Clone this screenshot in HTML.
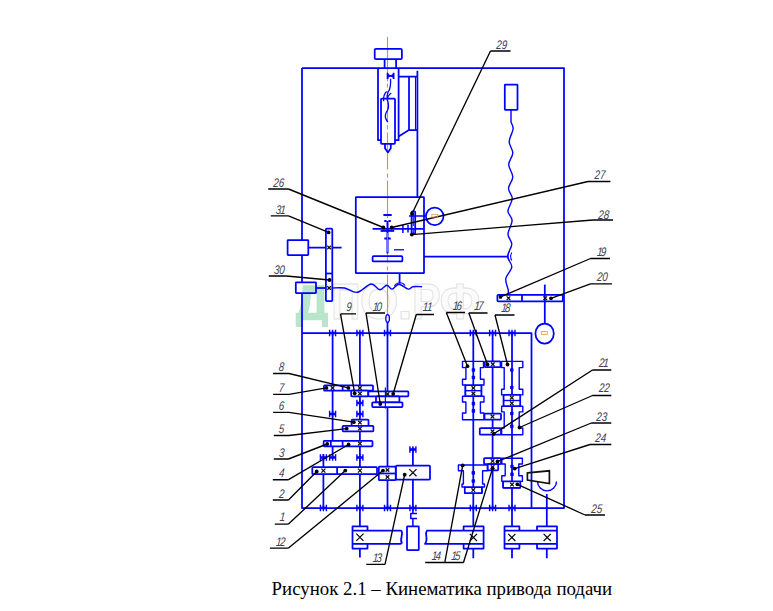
<!DOCTYPE html>
<html><head><meta charset="utf-8"><style>
html,body{margin:0;padding:0;background:#fff;width:773px;height:611px;overflow:hidden}
svg{position:absolute;left:0;top:0}
.cap{position:absolute;left:271.6px;top:579.5px;font-family:"Liberation Serif",serif;font-size:18.85px;color:#000;white-space:nowrap;line-height:1}
</style></head><body>
<svg width="773" height="611" viewBox="0 0 773 611">
<path fill-rule="evenodd" fill="#b9e5cb" d="M302.7,285.3 H324.4 V312.8 H328 V327.1 H321.9 V320.2 H302.7 V327.1 H295.7 V312.8 H298.5 Q302,304 302.7,285.3 Z M310.9,293.5 H316.6 V312.8 H308 Q310.5,305 310.9,293.5 Z"/>
<g font-family="Liberation Sans, sans-serif" font-weight="bold" font-size="50" fill="#fbfbfb" stroke="#e2e2e2" stroke-width="1">
<text x="0" y="0" transform="translate(331.3,319.3) scale(0.81,1)">П</text>
<text x="0" y="0" transform="translate(359.8,319.3) scale(1.0,1)">О</text>
<text x="0" y="0" transform="translate(397.2,319.3) scale(1.13,1)">.</text>
<text x="0" y="0" transform="translate(412.1,319.3) scale(0.86,1)">Р</text>
<text x="0" y="0" transform="translate(439.6,319.3) scale(0.96,1)">Ф</text>
</g>
<path d="M387.5,37 V81.5 M387.5,83.5 V87.5 M387.5,91 V122 M387.5,125.3 V129.5 M387.5,132.5 V169.5 M387.5,173.4 V177.8 M387.5,180.8 V218 M387.5,221.5 V225.5 M387.5,229 V262.5 M387.5,266.5 V270.5 M387.5,274.5 V315" stroke="#f08a1c" stroke-width="1.1" fill="none"/>
<g fill="none" stroke="#0000ff" stroke-width="1.75" stroke-linejoin="round" stroke-linecap="butt">
<path d="M302,68 H564 V508 H302 V293 M302,282.3 V255 M302,240 V68"/>
<path d="M302,333 H531.5 V508"/>
<rect x="374.7" y="48.8" width="27.2" height="10.4" rx="1.2" fill="none"/>
<path d="M384.6,59.2 V68 M396.1,59.2 V68"/>
<path d="M378,68 V140.2 H381 M395,140.2 H398.6 V68"/>
<rect x="381" y="98.6" width="14" height="45.2" rx="0.8" fill="none"/>
<path d="M385,143.8 V148.3 L387.9,152.4 L390.8,148.3 V143.8"/>
<path d="M398.6,76.5 H417.2 M409,76.5 V130.2 M398.6,136.4 L408.5,130.2 H417.2 M417.4,70.8 V197.6"/>
<path d="M415.5,76.5 V130.2" stroke-width="1.1"/>
<path d="M387.6,72.8 V78.9 M393.6,72.8 V78.9 M387.6,75.8 H393.6" stroke-width="1.8"/>
<path d="M387.6,74 L390.6,75.8 L387.6,77.6 Z M393.6,74 L390.6,75.8 L393.6,77.6 Z" stroke-width="0.8" fill="#0000ff"/>
<path d="M390.6,78.8 C390.8,84 390.8,88 388.5,91.5 C386.5,94.5 386.8,98 388,102 C389,106 388.8,109 386.5,112 C384.5,115 385.5,119 387.8,122" stroke-width="1.3"/>
<path d="M386.6,91.5 C384.5,93.5 383.2,97 383.6,101.3 M391.2,93 C388.6,94.8 387.2,97.5 387.3,100.8" stroke-width="1.3"/>
<rect x="355.8" y="197.2" width="68.2" height="76.0" rx="0.5" fill="none"/>
<path d="M372.6,228.8 H423.7"/>
<path d="M383.4,215 H391.7" stroke-width="2"/>
<path d="M384.3,220.9 H386.6 M388.4,220.9 H390.8" stroke-width="2"/>
<path d="M380.6,230.9 H394.2" stroke-width="1.9"/>
<path d="M387.5,221 V253.4" stroke-width="2.0"/>
<path d="M384.3,238.5 H390.8" stroke-width="2"/>
<path d="M394,249.8 H404" stroke-width="1.3"/>
<rect x="372.6" y="256.2" width="29.8" height="5.2" rx="1" fill="none"/>
<rect x="411.6" y="211.3" width="3.6" height="22.2" rx="0.8" fill="none"/>
<path d="M409,216 H426 M402.9,225 V233 M408,225 V232.5" stroke-width="1.5"/>
<path d="M413.3,213 V226 M413.3,228 V233" stroke-width="1.0"/>
<circle cx="434.7" cy="216.3" r="8.8"/>
<path d="M424,256.5 H507.2"/>
<path d="M399.6,273.2 V283.6"/>
<rect x="287.6" y="240" width="20.7" height="15" rx="0.5" fill="none"/>
<path d="M308.3,247.5 H341.6"/>
<rect x="325.9" y="228.5" width="6.4" height="72.5" rx="1" fill="#fff"/>
<path d="M325.9,273.5 H332.3"/>
<rect x="295.8" y="282.3" width="20.2" height="10.7" rx="0.5" fill="none"/>
<path d="M316,288 H325.9"/>
<path d="M332.3,288 C334.33,288.00 340.32,287.28 344.5,288 C348.68,288.72 352.98,292.97 357.4,292.3 C361.82,291.63 367.27,284.43 371,284 C374.73,283.57 377.17,289.50 379.8,289.7 C382.43,289.90 384.77,285.30 386.8,285.2 C388.83,285.10 389.98,289.27 392,289.1 C394.02,288.93 396.20,284.20 398.9,284.2 C401.60,284.20 405.85,288.68 408.2,289.1 C410.55,289.52 410.70,287.10 413,286.7 C415.30,286.30 420.50,286.70 422,286.7 " stroke-width="1.4"/>
<path d="M394.5,286 C397,281.5 403,282 405,285.5" stroke-width="1.2"/>
<rect x="504.8" y="84.5" width="12.7" height="25.3" rx="0.5" fill="#fff"/>
<path d="M511,109.8 V122 C511.35,123.17 513.40,125.72 513.1,129 C512.80,132.28 509.25,137.70 509.2,141.7 C509.15,145.70 512.88,149.18 512.8,153 C512.72,156.82 508.70,160.62 508.7,164.6 C508.70,168.58 512.83,172.95 512.8,176.9 C512.77,180.85 508.58,184.68 508.5,188.3 C508.42,191.92 512.40,194.78 512.3,198.6 C512.20,202.42 507.93,207.57 507.9,211.2 C507.87,214.83 512.08,216.58 512.1,220.4 C512.12,224.22 508.05,230.13 508,234.1 C507.95,238.07 511.87,240.52 511.8,244.2 C511.73,247.88 507.60,252.40 507.6,256.2 C507.60,260.00 512.10,263.28 511.8,267 C511.50,270.72 506.38,274.67 505.8,278.5 C505.22,282.33 507.88,288.08 508.3,290  V294.6" stroke-width="1.4"/>
<path d="M509.5,251.5 C507.5,254 507.5,258.5 509.5,261 M511.8,252.5 C510.3,255 510.3,258 511.8,260.5" stroke-width="1.1"/>
<rect x="497.4" y="294.8" width="65.4" height="6.5" rx="0.8" fill="#fff"/>
<path d="M522,294.8 V301.3"/>
<path d="M544.8,284.6 V323.3"/>
<ellipse cx="544.6" cy="333.5" rx="9.2" ry="10"/>
<path d="M332.6,333 V457.5 M359.9,333 V526.3 M359.9,548.7 V557.5 M387.5,322 V508 M323.4,454 V508 M412.9,447.6 V465.7 M412.9,479.6 V508"/>
<ellipse cx="387.6" cy="318.5" rx="1.8" ry="3.8" stroke-width="1.3"/>
<path d="M329.6,329.8 V336.2 M335.6,329.8 V336.2 M332.6,329.8 V336.2" stroke-width="1.4"/>
<path d="M329.6,333 H335.6" stroke-width="2.6"/>
<path d="M356.9,329.8 V336.2 M362.9,329.8 V336.2 M359.9,329.8 V336.2" stroke-width="1.4"/>
<path d="M356.9,333 H362.9" stroke-width="2.6"/>
<path d="M384.5,329.8 V336.2 M390.5,329.8 V336.2 M387.5,329.8 V336.2" stroke-width="1.4"/>
<path d="M384.5,333 H390.5" stroke-width="2.6"/>
<path d="M356.9,399.8 V406.2 M362.9,399.8 V406.2 M359.9,399.8 V406.2" stroke-width="1.4"/>
<path d="M356.9,403 H362.9" stroke-width="2.6"/>
<path d="M329.6,410.8 V417.2 M335.6,410.8 V417.2 M332.6,410.8 V417.2" stroke-width="1.4"/>
<path d="M329.6,414 H335.6" stroke-width="2.6"/>
<path d="M356.9,410.8 V417.2 M362.9,410.8 V417.2 M359.9,410.8 V417.2" stroke-width="1.4"/>
<path d="M356.9,414 H362.9" stroke-width="2.6"/>
<path d="M320.4,454.3 V460.7 M326.4,454.3 V460.7 M323.4,454.3 V460.7" stroke-width="1.4"/>
<path d="M320.4,457.5 H326.4" stroke-width="2.6"/>
<path d="M329.6,454.3 V460.7 M335.6,454.3 V460.7 M332.6,454.3 V460.7" stroke-width="1.4"/>
<path d="M329.6,457.5 H335.6" stroke-width="2.6"/>
<path d="M356.9,454.3 V460.7 M362.9,454.3 V460.7 M359.9,454.3 V460.7" stroke-width="1.4"/>
<path d="M356.9,457.5 H362.9" stroke-width="2.6"/>
<path d="M409.9,446.3 V452.7 M415.9,446.3 V452.7 M412.9,446.3 V452.7" stroke-width="1.4"/>
<path d="M409.9,449.5 H415.9" stroke-width="2.6"/>
<path d="M320.4,504.8 V511.2 M326.4,504.8 V511.2 M323.4,504.8 V511.2" stroke-width="1.4"/>
<path d="M320.4,508 H326.4" stroke-width="2.6"/>
<path d="M356.9,504.8 V511.2 M362.9,504.8 V511.2 M359.9,504.8 V511.2" stroke-width="1.4"/>
<path d="M356.9,508 H362.9" stroke-width="2.6"/>
<path d="M384.5,504.8 V511.2 M390.5,504.8 V511.2 M387.5,504.8 V511.2" stroke-width="1.4"/>
<path d="M384.5,508 H390.5" stroke-width="2.6"/>
<path d="M409.9,504.8 V511.2 M415.9,504.8 V511.2 M412.9,504.8 V511.2" stroke-width="1.4"/>
<path d="M409.9,508 H415.9" stroke-width="2.6"/>
<rect x="324" y="385.3" width="49" height="5.4" rx="0.8" fill="#fff"/>
<path d="M342.6,385.3 V390.7"/>
<rect x="351.2" y="390.7" width="17.1" height="5.7" rx="0.8" fill="#fff"/>
<rect x="368.3" y="391.4" width="40.1" height="5.0" rx="0.8" fill="#fff"/>
<rect x="376" y="396.4" width="23.4" height="5.9" rx="0.8" fill="#fff"/>
<rect x="372.2" y="402.3" width="30.3" height="4.7" rx="0.8" fill="#fff"/>
<path d="M385.4,387.5 V408.5" stroke-width="1.2"/>
<rect x="351.6" y="419.5" width="16.9" height="6.3" rx="0.8" fill="#fff"/>
<rect x="342.6" y="425.8" width="30.8" height="5.5" rx="0.8" fill="#fff"/>
<rect x="323.6" y="440.9" width="48.9" height="5.4" rx="0.8" fill="#fff"/>
<path d="M330.8,440.9 V446.3 M342.6,440.9 V446.3"/>
<rect x="312.3" y="467.1" width="64.7" height="7.1" rx="0.8" fill="#fff"/>
<path d="M337.1,467.1 V474.2"/>
<rect x="378.8" y="466.6" width="16.9" height="13.6" rx="0.8" fill="#fff"/>
<path d="M378.8,473.5 H395.7"/>
<rect x="396" y="465.7" width="34" height="13.9" rx="0.8" fill="#fff"/>
<path d="M412.9,508 V513.4 M417,513.4 H410.8 V518.6 H417 M412.9,518.6 V526.3" stroke-width="1.5"/>
<rect x="352.5" y="526.3" width="15.0" height="22.3" fill="#fff" stroke="none"/>
<path d="M367.5,530.5 V526.3 H352.5 V548.6 H367.5 V543.8"/>
<path d="M352.5,530.5 H401.3 M352.5,543.8 H401.3 M401.3,530.5 C404,534 399,539 402,543.8"/>
<rect x="407" y="526.3" width="11.8" height="23.7" rx="0.5" fill="#fff"/>
<rect x="463.6" y="526.3" width="20.0" height="22.3" fill="#fff" stroke="none"/>
<path d="M463.6,530.5 V526.3 H483.6 V548.6 H463.6 V543.8"/>
<path d="M483.6,530.5 H427 C424,534 429,539 425,543.8 H483.6"/>
<rect x="504.5" y="526.3" width="14.9" height="22.3" fill="#fff" stroke="none"/>
<path d="M519.4,530.5 V526.3 H504.5 V548.6 H519.4 V543.8"/>
<rect x="537" y="526.3" width="20" height="22.3" fill="#fff" stroke="none"/>
<path d="M537,530.5 V526.3 H557 V548.6 H537 V543.8"/>
<path d="M504.5,530.5 H557 M504.5,543.8 H557"/>
<path d="M473.3,333 V526.3 M473.3,548.6 V558.3 M492.6,333 V508 M512,333 V526.3 M512,548.6 V558.3 M546.8,494 V526.3 M546.8,548.6 V558.3"/>
<path d="M470.3,329.8 V336.2 M476.3,329.8 V336.2 M473.3,329.8 V336.2" stroke-width="1.4"/>
<path d="M470.3,333 H476.3" stroke-width="2.6"/>
<path d="M470.3,504.8 V511.2 M476.3,504.8 V511.2 M473.3,504.8 V511.2" stroke-width="1.4"/>
<path d="M470.3,508 H476.3" stroke-width="2.6"/>
<path d="M489.6,329.8 V336.2 M495.6,329.8 V336.2 M492.6,329.8 V336.2" stroke-width="1.4"/>
<path d="M489.6,333 H495.6" stroke-width="2.6"/>
<path d="M489.6,504.8 V511.2 M495.6,504.8 V511.2 M492.6,504.8 V511.2" stroke-width="1.4"/>
<path d="M489.6,508 H495.6" stroke-width="2.6"/>
<path d="M509,329.8 V336.2 M515,329.8 V336.2 M512,329.8 V336.2" stroke-width="1.4"/>
<path d="M509,333 H515" stroke-width="2.6"/>
<path d="M509,504.8 V511.2 M515,504.8 V511.2 M512,504.8 V511.2" stroke-width="1.4"/>
<path d="M509,508 H515" stroke-width="2.6"/>
<path d="M462.5,361.4 H483.5 V367.6 H480.4 V379.3 H484 V385 H481.4 V396.2 H484 V402 H480.4 V413 H484 V419.7 H462.5 V413 H465.9 V402 H462.5 V396.2 H465.4 V385 H462.5 V379.3 H465.9 V367.6 H462.5 Z" stroke-width="1.4"/>
<rect x="465.4" y="385" width="16.0" height="11.2" rx="0.5" fill="#fff"/>
<path d="M465.4,390.7 H481.4" stroke-width="1.4"/>
<rect x="484.8" y="361.4" width="15.7" height="5.8" rx="0.8" fill="#fff"/>
<rect x="484.5" y="413.5" width="16.5" height="6.2" rx="0.8" fill="#fff"/>
<path d="M501.6,361.4 H522.8 V367.6 H519.2 V389.2 H522.8 V394.9 H520.2 V406.2 H522.8 V411.9 H519.2 V428 H522.8 V434.7 H501.6 V428 H504.2 V411.9 H501.6 V406.2 H503.6 V394.9 H501.6 V389.2 H504.2 V367.6 H501.6 Z" stroke-width="1.4"/>
<rect x="503.6" y="394.9" width="16.6" height="11.3" rx="0.5" fill="#fff"/>
<path d="M503.6,400.5 H520.2" stroke-width="1.4"/>
<rect x="479.8" y="428" width="21.2" height="6.7" rx="0.8" fill="#fff"/>
<rect x="484" y="458.2" width="17" height="5.8" rx="0.8" fill="#fff"/>
<rect x="487.6" y="464" width="10.6" height="6.3" rx="0.8" fill="#fff"/>
<path d="M458.4,465 H487.6 V470.8 H482.6 V484 H484.5 V487 H481.9 V493.2 H464.8 V487 H462 V484 H463.4 V470.8 H458.4 Z" stroke-width="1.4"/>
<rect x="464.8" y="487" width="17.1" height="6.2" rx="0.5" fill="#fff"/>
<path d="M501.8,458.2 H522.4 V464 H518.8 V475.7 H522.4 V481.4 H520.3 V487.8 H503.1 V481.4 H501.8 V475.7 H505.2 V464 H501.8 Z" stroke-width="1.4"/>
<rect x="503.1" y="481.4" width="17.2" height="6.4" rx="0.5" fill="#fff"/>
<path d="M537.5,481.4 A9.5,9.5 0 0 0 556.5,481.4" stroke-width="1.4"/>
</g>
<g fill="none" stroke="#000" stroke-width="1.35">
<path d="M490.5,51 H510.5 M490.5,51 L412,213.7"/>
<path d="M268.2,189 H288.5 M288.5,189 L383.4,227.5"/>
<path d="M588,181.5 H610.4 M588,181.5 L391.7,227.5"/>
<path d="M593,220 H613 M593,220 L411.8,234.6"/>
<path d="M270.8,215.8 H288.5 M288.5,215.8 L328.6,232.4"/>
<path d="M268.8,276 H286.3 M286.3,276 L329.5,280"/>
<path d="M590.5,258.5 H610 M590.5,258.5 L500.5,296.9"/>
<path d="M590.5,283.8 H612 M590.5,283.8 L551,298.3"/>
<path d="M340.5,313.8 H356 M340.5,313.8 L354.7,393.3"/>
<path d="M366,313 H385 M366,313 L380.3,404"/>
<path d="M416.3,314.5 H434 M416.3,314.5 L393.2,393.8"/>
<path d="M446.3,312.5 H465 M446.3,312.5 L467.5,366.2"/>
<path d="M468.8,313 H487.5 M468.8,313 L487.5,364.5"/>
<path d="M495,315 H514.5 M495,315 L507.5,364.5"/>
<path d="M273.1,373.5 H289 M289,373.5 L348.4,387.9"/>
<path d="M273.1,394.3 H289 M289,394.3 L326.4,387.9"/>
<path d="M273.1,412.3 H289 M289,412.3 L353.8,422.2"/>
<path d="M273.8,435.5 H289 M289,435.5 L346.7,428.6"/>
<path d="M273.8,459 H288.5 M288.5,459 L327.2,444"/>
<path d="M272.8,479.7 H288.5 M288.5,479.7 L348.6,444.5"/>
<path d="M272.8,500 H288.5 M288.5,500 L316.7,471.5"/>
<path d="M274.8,524.1 H288.5 M288.5,524.1 L345.3,470.6"/>
<path d="M269.9,548.1 H288.5 M288.5,548.1 L383,470.6"/>
<path d="M366.3,564.3 H385 M385,564.3 L404.7,474.7"/>
<path d="M425.2,562.5 H444.8 M444.8,562.5 L462.7,465.4"/>
<path d="M444.8,562.5 H463.5 M463.5,562.5 L492.5,468.6"/>
<path d="M592.5,370 H611.3 M592.5,370 L493.8,433.8"/>
<path d="M592.5,395.5 H611.3 M592.5,395.5 L519.5,427.5"/>
<path d="M591.3,423 H611.3 M591.3,423 L497.5,461.5"/>
<path d="M590,444.5 H611.3 M590,444.5 L514.7,468.6"/>
<path d="M585,515 H605 M585,515 L517.4,484.3"/>
</g>
<rect x="431.8" y="214.3" width="5.9" height="2.8" fill="none" stroke="#d99a50" stroke-width="0.8"/>
<path d="M327.3,245.7 L330.90000000000003,249.3 M327.3,249.3 L330.90000000000003,245.7" stroke="#111" stroke-width="1.25" fill="none"/>
<path d="M327.3,286.2 L330.90000000000003,289.8 M327.3,289.8 L330.90000000000003,286.2" stroke="#111" stroke-width="1.25" fill="none"/>
<rect x="541.3" y="331.6" width="6" height="2.8" fill="none" stroke="#d99a50" stroke-width="0.8"/>
<path d="M506.7,296.4 L510.3,300.0 M506.7,300.0 L510.3,296.4" stroke="#111" stroke-width="1.25" fill="none"/>
<path d="M543.4000000000001,296.4 L547.0,300.0 M543.4000000000001,300.0 L547.0,296.4" stroke="#111" stroke-width="1.25" fill="none"/>
<path d="M330.8,386.2 L334.40000000000003,389.8 M330.8,389.8 L334.40000000000003,386.2" stroke="#111" stroke-width="1.25" fill="none"/>
<path d="M358.09999999999997,386.2 L361.7,389.8 M358.09999999999997,389.8 L361.7,386.2" stroke="#111" stroke-width="1.25" fill="none"/>
<path d="M358.09999999999997,391.8 L361.7,395.40000000000003 M358.09999999999997,395.40000000000003 L361.7,391.8" stroke="#111" stroke-width="1.25" fill="none"/>
<path d="M385.7,392.2 L389.3,395.8 M385.7,395.8 L389.3,392.2" stroke="#111" stroke-width="1.25" fill="none"/>
<path d="M358.09999999999997,420.8 L361.7,424.40000000000003 M358.09999999999997,424.40000000000003 L361.7,420.8" stroke="#111" stroke-width="1.25" fill="none"/>
<path d="M358.09999999999997,426.8 L361.7,430.40000000000003 M358.09999999999997,430.40000000000003 L361.7,426.8" stroke="#111" stroke-width="1.25" fill="none"/>
<path d="M358.09999999999997,441.8 L361.7,445.40000000000003 M358.09999999999997,445.40000000000003 L361.7,441.8" stroke="#111" stroke-width="1.25" fill="none"/>
<path d="M321.4,468.6 L325.4,472.6 M321.4,472.6 L325.4,468.6" stroke="#111" stroke-width="1.25" fill="none"/>
<path d="M357.9,468.6 L361.9,472.6 M357.9,472.6 L361.9,468.6" stroke="#111" stroke-width="1.25" fill="none"/>
<path d="M385.7,468.2 L389.3,471.8 M385.7,471.8 L389.3,468.2" stroke="#111" stroke-width="1.25" fill="none"/>
<path d="M385.7,475.2 L389.3,478.8 M385.7,478.8 L389.3,475.2" stroke="#111" stroke-width="1.25" fill="none"/>
<path d="M409.29999999999995,469.09999999999997 L416.5,476.3 M409.29999999999995,476.3 L416.5,469.09999999999997" stroke="#111" stroke-width="1.3" fill="none"/>
<path d="M356.29999999999995,533.6999999999999 L363.5,540.9 M356.29999999999995,540.9 L363.5,533.6999999999999" stroke="#000" stroke-width="1.15" fill="none"/>
<path d="M469.79999999999995,533.8 L477.0,541.0 M469.79999999999995,541.0 L477.0,533.8" stroke="#000" stroke-width="1.15" fill="none"/>
<path d="M508.2,533.8 L515.4,541.0 M508.2,541.0 L515.4,533.8" stroke="#000" stroke-width="1.15" fill="none"/>
<path d="M543.6,533.8 L550.8000000000001,541.0 M543.6,541.0 L550.8000000000001,533.8" stroke="#000" stroke-width="1.15" fill="none"/>
<path d="M471.59999999999997,386.2 L475.2,389.8 M471.59999999999997,389.8 L475.2,386.2" stroke="#111" stroke-width="1.25" fill="none"/>
<path d="M471.59999999999997,391.7 L475.2,395.3 M471.59999999999997,395.3 L475.2,391.7" stroke="#111" stroke-width="1.25" fill="none"/>
<rect x="471.7" y="368.2" width="3.4" height="3.6" rx="0.7" fill="#0000ff"/>
<rect x="471.7" y="375.7" width="3.4" height="3.6" rx="0.7" fill="#0000ff"/>
<rect x="471.7" y="401.8" width="3.4" height="3.6" rx="0.7" fill="#0000ff"/>
<rect x="471.7" y="409.09999999999997" width="3.4" height="3.6" rx="0.7" fill="#0000ff"/>
<path d="M491.0,362.5 L494.6,366.1 M491.0,366.1 L494.6,362.5" stroke="#111" stroke-width="1.25" fill="none"/>
<path d="M490.7,414.8 L494.3,418.40000000000003 M490.7,418.40000000000003 L494.3,414.8" stroke="#111" stroke-width="1.25" fill="none"/>
<path d="M510.0,395.9 L513.6,399.5 M510.0,399.5 L513.6,395.9" stroke="#111" stroke-width="1.25" fill="none"/>
<path d="M510.0,401.5 L513.6,405.1 M510.0,405.1 L513.6,401.5" stroke="#111" stroke-width="1.25" fill="none"/>
<rect x="510.1" y="368.2" width="3.4" height="3.6" rx="0.7" fill="#0000ff"/>
<rect x="510.1" y="385.7" width="3.4" height="3.6" rx="0.7" fill="#0000ff"/>
<rect x="510.1" y="411.7" width="3.4" height="3.6" rx="0.7" fill="#0000ff"/>
<rect x="510.1" y="424.59999999999997" width="3.4" height="3.6" rx="0.7" fill="#0000ff"/>
<path d="M490.7,429.5 L494.3,433.1 M490.7,433.1 L494.3,429.5" stroke="#111" stroke-width="1.25" fill="none"/>
<path d="M490.8,459.3 L494.40000000000003,462.90000000000003 M490.8,462.90000000000003 L494.40000000000003,459.3" stroke="#111" stroke-width="1.25" fill="none"/>
<path d="M490.8,465.2 L494.40000000000003,468.8 M490.8,468.8 L494.40000000000003,465.2" stroke="#111" stroke-width="1.25" fill="none"/>
<path d="M471.5,488.3 L475.1,491.90000000000003 M471.5,491.90000000000003 L475.1,488.3" stroke="#111" stroke-width="1.25" fill="none"/>
<rect x="471.6" y="471.09999999999997" width="3.4" height="3.6" rx="0.7" fill="#0000ff"/>
<rect x="471.6" y="479.2" width="3.4" height="3.6" rx="0.7" fill="#0000ff"/>
<path d="M510.2,482.8 L513.8,486.40000000000003 M510.2,486.40000000000003 L513.8,482.8" stroke="#111" stroke-width="1.25" fill="none"/>
<rect x="510.3" y="464.7" width="3.4" height="3.6" rx="0.7" fill="#0000ff"/>
<rect x="510.3" y="472.5" width="3.4" height="3.6" rx="0.7" fill="#0000ff"/>
<path d="M527.4,472.9 L549.4,470.8 V483.6 L527.4,480 Z" fill="none" stroke="#111" stroke-width="1.7"/>
<circle cx="412" cy="213.7" r="1.9" fill="#000"/>
<circle cx="383.4" cy="227.5" r="1.9" fill="#000"/>
<circle cx="391.7" cy="227.5" r="1.9" fill="#000"/>
<circle cx="411.8" cy="234.6" r="1.9" fill="#000"/>
<circle cx="328.6" cy="232.4" r="1.9" fill="#000"/>
<circle cx="329.5" cy="280" r="1.9" fill="#000"/>
<circle cx="500.5" cy="296.9" r="1.9" fill="#000"/>
<circle cx="551" cy="298.3" r="1.9" fill="#000"/>
<circle cx="354.7" cy="393.3" r="1.9" fill="#000"/>
<circle cx="380.3" cy="404" r="1.9" fill="#000"/>
<circle cx="393.2" cy="393.8" r="1.9" fill="#000"/>
<circle cx="467.5" cy="366.2" r="1.9" fill="#000"/>
<circle cx="487.5" cy="364.5" r="1.9" fill="#000"/>
<circle cx="507.5" cy="364.5" r="1.9" fill="#000"/>
<circle cx="348.4" cy="387.9" r="1.9" fill="#000"/>
<circle cx="326.4" cy="387.9" r="1.9" fill="#000"/>
<circle cx="353.8" cy="422.2" r="1.9" fill="#000"/>
<circle cx="346.7" cy="428.6" r="1.9" fill="#000"/>
<circle cx="327.2" cy="444" r="1.9" fill="#000"/>
<circle cx="348.6" cy="444.5" r="1.9" fill="#000"/>
<circle cx="316.7" cy="471.5" r="1.9" fill="#000"/>
<circle cx="345.3" cy="470.6" r="1.9" fill="#000"/>
<circle cx="383" cy="470.6" r="1.9" fill="#000"/>
<circle cx="404.7" cy="474.7" r="1.9" fill="#000"/>
<circle cx="462.7" cy="465.4" r="1.9" fill="#000"/>
<circle cx="492.5" cy="468.6" r="1.9" fill="#000"/>
<circle cx="493.8" cy="433.8" r="1.9" fill="#000"/>
<circle cx="519.5" cy="427.5" r="1.9" fill="#000"/>
<circle cx="497.5" cy="461.5" r="1.9" fill="#000"/>
<circle cx="514.7" cy="468.6" r="1.9" fill="#000"/>
<circle cx="517.4" cy="484.3" r="1.9" fill="#000"/>
<path d="M387.5,233 V252" stroke="#f08a1c" stroke-width="0.8" fill="none"/>
<g font-family="Liberation Sans, sans-serif" font-style="italic" font-size="12.5" fill="#404050">
<text x="496" y="49.5" transform="translate(496,49.5) scale(0.78,1) skewX(-6) translate(-496,-49.5)">29</text>
<text x="273" y="187" transform="translate(273,187) scale(0.78,1) skewX(-6) translate(-273,-187)">26</text>
<text x="594.3" y="178.9" transform="translate(594.3,178.9) scale(0.78,1) skewX(-6) translate(-594.3,-178.9)">27</text>
<text x="598" y="218.6" transform="translate(598,218.6) scale(0.78,1) skewX(-6) translate(-598,-218.6)">28</text>
<text x="275.6" y="214" transform="translate(275.6,214) scale(0.78,1) skewX(-6) translate(-275.6,-214)">3<tspan dx="-1.4">1</tspan></text>
<text x="273.7" y="273.8" transform="translate(273.7,273.8) scale(0.78,1) skewX(-6) translate(-273.7,-273.8)">30</text>
<text x="596.7" y="256" transform="translate(596.7,256) scale(0.78,1) skewX(-6) translate(-596.7,-256)">1<tspan dx="-2.0">9</tspan></text>
<text x="596.7" y="281" transform="translate(596.7,281) scale(0.78,1) skewX(-6) translate(-596.7,-281)">20</text>
<text x="346" y="311" transform="translate(346,311) scale(0.78,1) skewX(-6) translate(-346,-311)">9</text>
<text x="372.5" y="311" transform="translate(372.5,311) scale(0.78,1) skewX(-6) translate(-372.5,-311)">1<tspan dx="-2.0">0</tspan></text>
<text x="422.5" y="311.3" transform="translate(422.5,311.3) scale(0.78,1) skewX(-6) translate(-422.5,-311.3)">1<tspan dx="-1.4">1</tspan></text>
<text x="452.5" y="310" transform="translate(452.5,310) scale(0.78,1) skewX(-6) translate(-452.5,-310)">1<tspan dx="-2.0">6</tspan></text>
<text x="474" y="310.5" transform="translate(474,310.5) scale(0.78,1) skewX(-6) translate(-474,-310.5)">1<tspan dx="-2.0">7</tspan></text>
<text x="501" y="312.3" transform="translate(501,312.3) scale(0.78,1) skewX(-6) translate(-501,-312.3)">1<tspan dx="-2.0">8</tspan></text>
<text x="278.4" y="371.4" transform="translate(278.4,371.4) scale(0.78,1) skewX(-6) translate(-278.4,-371.4)">8</text>
<text x="278.4" y="391.8" transform="translate(278.4,391.8) scale(0.78,1) skewX(-6) translate(-278.4,-391.8)">7</text>
<text x="278.4" y="409.8" transform="translate(278.4,409.8) scale(0.78,1) skewX(-6) translate(-278.4,-409.8)">6</text>
<text x="278.4" y="432.7" transform="translate(278.4,432.7) scale(0.78,1) skewX(-6) translate(-278.4,-432.7)">5</text>
<text x="278.7" y="457.3" transform="translate(278.7,457.3) scale(0.78,1) skewX(-6) translate(-278.7,-457.3)">3</text>
<text x="278.7" y="477.3" transform="translate(278.7,477.3) scale(0.78,1) skewX(-6) translate(-278.7,-477.3)">4</text>
<text x="278.7" y="498" transform="translate(278.7,498) scale(0.78,1) skewX(-6) translate(-278.7,-498)">2</text>
<text x="279.5" y="521.5" transform="translate(279.5,521.5) scale(0.78,1) skewX(-6) translate(-279.5,-521.5)">1</text>
<text x="275.8" y="546" transform="translate(275.8,546) scale(0.78,1) skewX(-6) translate(-275.8,-546)">1<tspan dx="-2.0">2</tspan></text>
<text x="372.5" y="562.5" transform="translate(372.5,562.5) scale(0.78,1) skewX(-6) translate(-372.5,-562.5)">1<tspan dx="-2.0">3</tspan></text>
<text x="431.4" y="560" transform="translate(431.4,560) scale(0.78,1) skewX(-6) translate(-431.4,-560)">1<tspan dx="-2.0">4</tspan></text>
<text x="451" y="560" transform="translate(451,560) scale(0.78,1) skewX(-6) translate(-451,-560)">1<tspan dx="-2.0">5</tspan></text>
<text x="598.7" y="367.5" transform="translate(598.7,367.5) scale(0.78,1) skewX(-6) translate(-598.7,-367.5)">2<tspan dx="-1.4">1</tspan></text>
<text x="598.7" y="392.5" transform="translate(598.7,392.5) scale(0.78,1) skewX(-6) translate(-598.7,-392.5)">22</text>
<text x="596" y="421" transform="translate(596,421) scale(0.78,1) skewX(-6) translate(-596,-421)">23</text>
<text x="595" y="442.5" transform="translate(595,442.5) scale(0.78,1) skewX(-6) translate(-595,-442.5)">24</text>
<text x="591" y="513" transform="translate(591,513) scale(0.78,1) skewX(-6) translate(-591,-513)">25</text>
</g>
</svg>
<div class="cap">Рисунок 2.1 – Кинематика привода подачи</div>
</body></html>
